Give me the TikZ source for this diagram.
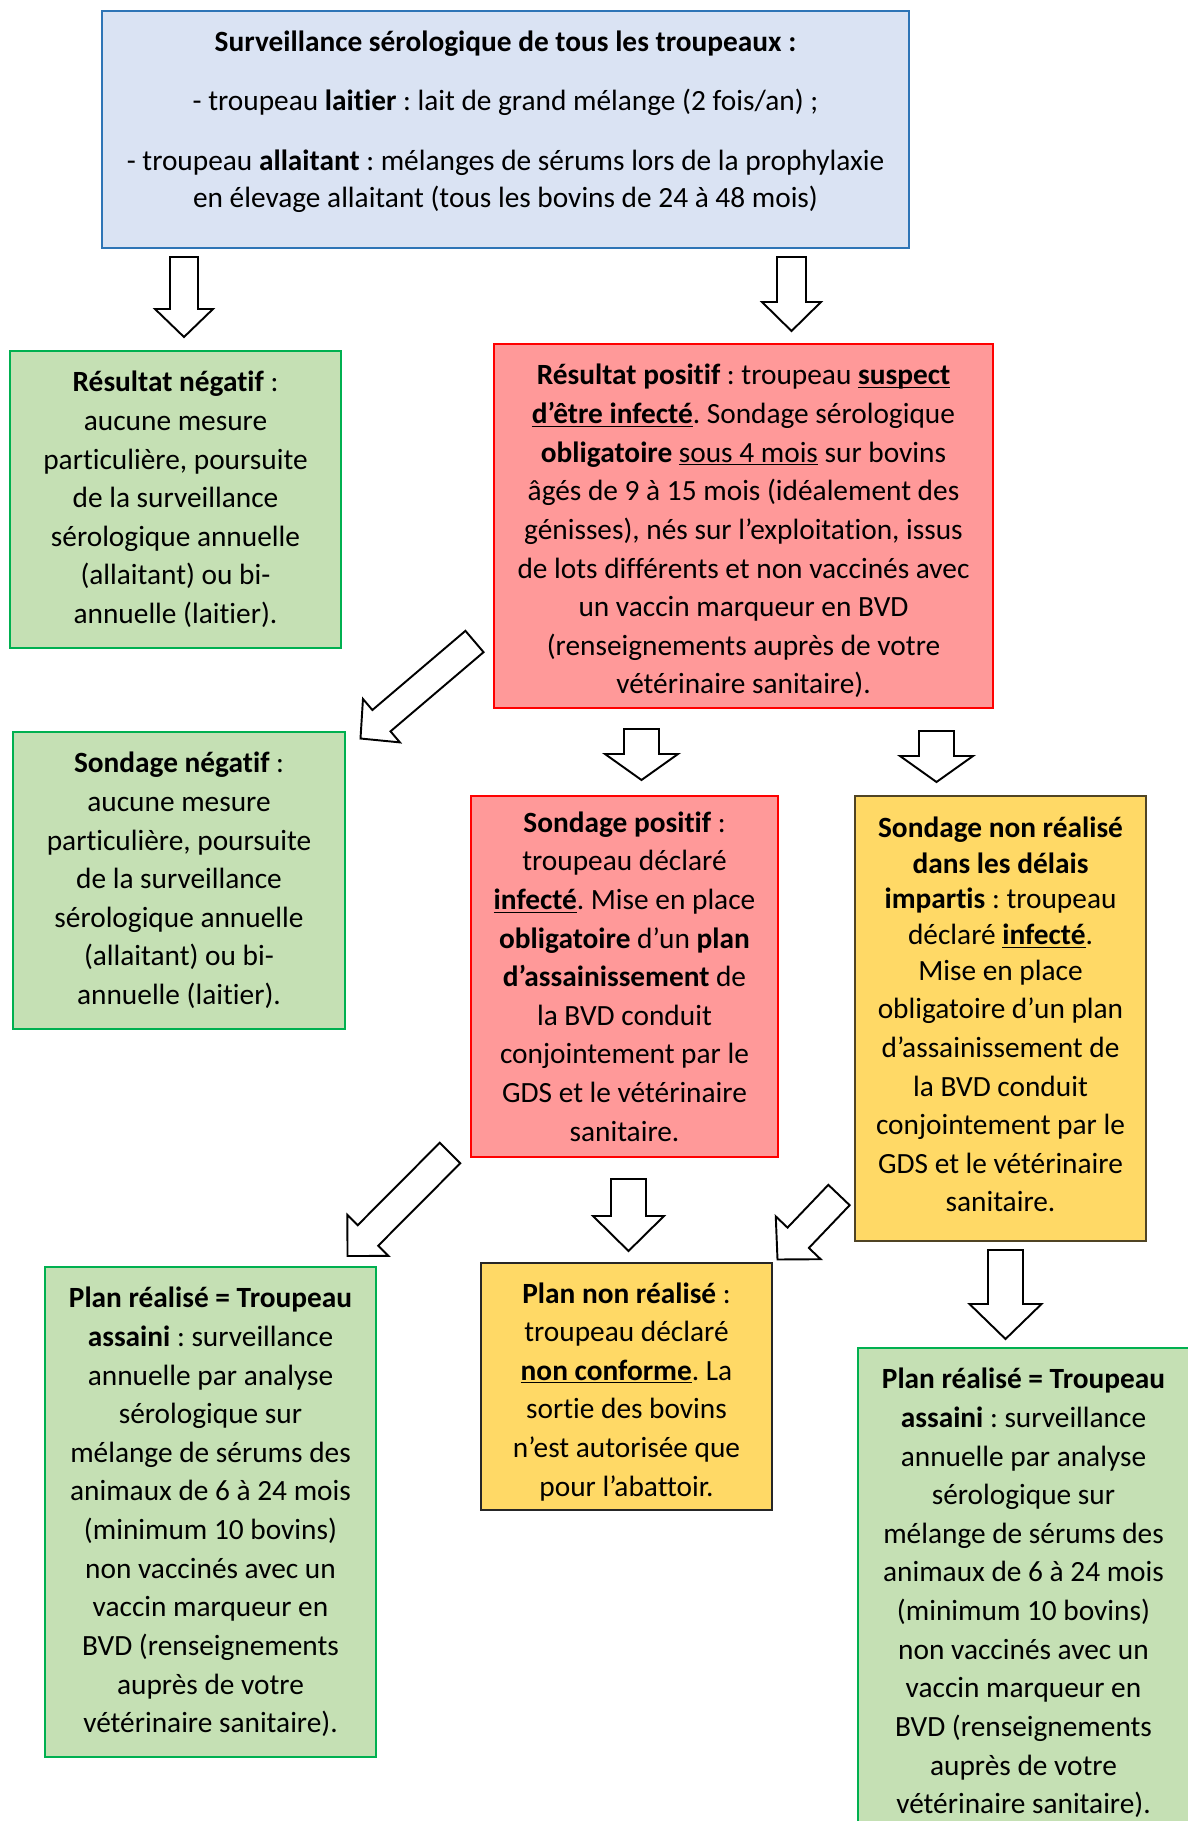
\documentclass[tikz,border=0pt]{standalone}
\usepackage{fontspec}
\setmainfont{Carlito}[Ligatures=NoCommon]
\usetikzlibrary{calc}
\frenchspacing

\definecolor{survfill}{HTML}{DAE3F3}
\definecolor{survline}{HTML}{2E75B6}
\definecolor{negfill}{HTML}{C5E0B4}
\definecolor{negline}{HTML}{00B050}
\definecolor{posfill}{HTML}{FF9999}
\definecolor{posline}{HTML}{FF0000}
\definecolor{planfill}{HTML}{FFD966}
\definecolor{planline}{HTML}{504424}

\newcommand{\souligne}[1]{\underline{\smash{#1}\vphantom{x}}}
\newcommand{\pushup}[1]{\\[#1]\mbox{}}
\newcommand{\pushdown}[1]{\mbox{}\\[#1]}
\newcommand{\blockarrow}[5]{%
  \coordinate (#1base) at ($(#2)!#5!(#1)$);
  \draw[hollowarrow] ($(#1)!#3!90:(#2)$) -- ($(#1base)!#3!90:(#2)$) -- ($(#1base)!#4!90:(#2)$) -- (#2)
    -- ($(#1base)!#4!-90:(#2)$) -- ($(#1base)!#3!-90:(#2)$) -- ($(#1)!#3!-90:(#2)$) -- cycle;
}

\tikzset{
  box/.style={draw, align=center, inner sep=0pt, line width=0.8pt, font=\fontsize{16.7pt}{21.97pt}\selectfont},
  survbox/.style={box, fill=survfill, draw=survline, line width=1.6pt},
  negbox/.style={box, fill=negfill, draw=negline},
  posbox/.style={box, fill=posfill, draw=posline},
  planbox/.style={box, fill=planfill, draw=planline},
  hollowarrow/.style={draw=black, fill=white, line width=1.1pt, line join=miter},
}

\begin{document}
\begin{tikzpicture}
	\useasboundingbox (0,0) rectangle (23.76,-36.42);

	\node[survbox, minimum width=16.14cm, minimum height=4.74cm] (surv) at (10.11,-2.59) {\textbf{Surveillance sérologique de tous les troupeaux :}\\[0.42cm]
		- troupeau \textbf{laitier} : lait de grand mélange (2 fois/an) ;\\[0.42cm]
		- troupeau \textbf{allaitant} : mélanges de sérums lors de la prophylaxie\\[-0.03cm]
		en élevage allaitant (tous les bovins de 24 à 48 mois)\pushup{-10pt}};

	\node[negbox, minimum width=6.62cm, minimum height=5.94cm] (resneg) at (3.51,-9.99) {\textbf{Résultat négatif} :\\ aucune mesure\\ particulière, poursuite\\ de la surveillance\\ sérologique annuelle\\ (allaitant) ou bi-\\ annuelle (laitier).};
	\node[posbox, minimum width=9.98cm, minimum height=7.28cm] (respos) at (14.87,-10.52) {\pushdown{-4.4pt}\textbf{Résultat positif} : troupeau \souligne{\textbf{suspect}}\\ \souligne{\textbf{d’être infecté}}. Sondage sérologique\\ \textbf{obligatoire} \souligne{sous 4 mois} sur bovins\\ âgés de 9 à 15 mois (idéalement des\\ génisses), nés sur l’exploitation, issus\\ de lots différents et non vaccinés avec\\ un vaccin marqueur en BVD\\ (renseignements auprès de votre\\ vétérinaire sanitaire).};

	\node[negbox, minimum width=6.64cm, minimum height=5.94cm] (sondneg) at (3.58,-17.61) {\textbf{Sondage négatif} :\\ aucune mesure\\ particulière, poursuite\\ de la surveillance\\ sérologique annuelle\\ (allaitant) ou bi-\\ annuelle (laitier).};
	\node[posbox, minimum width=6.14cm, minimum height=7.22cm] (sondpos) at (12.49,-19.53) {\textbf{Sondage positif} :\\ troupeau déclaré\\ \souligne{\textbf{infecté}}. Mise en place\\ \textbf{obligatoire} d’un \textbf{plan}\\ \textbf{d’assainissement} de\\ la BVD conduit\\ conjointement par le\\ GDS et le vétérinaire\\ sanitaire.};
	\node[planbox, minimum width=5.82cm, minimum height=8.90cm] (sondnon) at (20.01,-20.37) {\textbf{Sondage non réalisé}\\[-0.06cm] \textbf{dans les délais}\\[-0.06cm] \textbf{impartis} : troupeau\\[-0.06cm] déclaré \souligne{\textbf{infecté}}.\\[-0.06cm] Mise en place\\ obligatoire d’un plan\\ d’assainissement de\\ la BVD conduit\\ conjointement par le\\ GDS et le vétérinaire\\ sanitaire.\pushup{-17.4pt}};

	\node[negbox, minimum width=6.62cm, minimum height=9.80cm] (planok) at (4.21,-30.24) {\textbf{Plan réalisé = Troupeau}\\ \textbf{assaini} : surveillance\\ annuelle par analyse\\ sérologique sur\\ mélange de sérums des\\ animaux de 6 à 24 mois\\ (minimum 10 bovins)\\ non vaccinés avec un\\ vaccin marqueur en\\ BVD (renseignements\\ auprès de votre\\ vétérinaire sanitaire).};
	\node[planbox, draw=black!85, minimum width=5.82cm, minimum height=4.94cm] (plannon) at (12.53,-27.73) {\pushdown{-4.4pt}\textbf{Plan non réalisé} :\\ troupeau déclaré\\ \souligne{\textbf{non conforme}}. La\\ sortie des bovins\\ n’est autorisée que\\ pour l’abattoir.};
	\node[negbox, minimum width=6.62cm, minimum height=9.80cm] (planok2) at (20.47,-31.86) {\textbf{Plan réalisé = Troupeau}\\ \textbf{assaini} : surveillance\\ annuelle par analyse\\ sérologique sur\\ mélange de sérums des\\ animaux de 6 à 24 mois\\ (minimum 10 bovins)\\ non vaccinés avec un\\ vaccin marqueur en\\ BVD (renseignements\\ auprès de votre\\ vétérinaire sanitaire).};

	\coordinate (a1s) at (3.68,-5.14);   \coordinate (a1e) at (3.68,-6.74);
	\coordinate (a2s) at (15.83,-5.14);  \coordinate (a2e) at (15.83,-6.62);
	\coordinate (a3s) at (9.49,-12.83);  \coordinate (a3e) at (7.21,-14.77);
	\coordinate (a4s) at (12.83,-14.58); \coordinate (a4e) at (12.83,-15.60);
	\coordinate (a5s) at (18.73,-14.62); \coordinate (a5e) at (18.73,-15.64);
	\coordinate (a6s) at (9.00,-23.06);  \coordinate (a6e) at (6.95,-25.12);
	\coordinate (a7s) at (12.57,-23.58); \coordinate (a7e) at (12.57,-25.02);
	\coordinate (a8s) at (16.78,-23.90); \coordinate (a8e) at (15.55,-25.19);
	\coordinate (a9s) at (20.11,-25.00); \coordinate (a9e) at (20.11,-26.78);

	\blockarrow{a1s}{a1e}{0.28cm}{0.58cm}{0.56cm}
	\blockarrow{a2s}{a2e}{0.29cm}{0.59cm}{0.58cm}
	\blockarrow{a3s}{a3e}{0.28cm}{0.57cm}{0.55cm}
	\blockarrow{a4s}{a4e}{0.35cm}{0.73cm}{0.52cm}
	\blockarrow{a5s}{a5e}{0.35cm}{0.73cm}{0.52cm}
	\blockarrow{a6s}{a6e}{0.29cm}{0.58cm}{0.58cm}
	\blockarrow{a7s}{a7e}{0.35cm}{0.71cm}{0.70cm}
	\blockarrow{a8s}{a8e}{0.295cm}{0.62cm}{0.60cm}
	\blockarrow{a9s}{a9e}{0.35cm}{0.72cm}{0.70cm}
\end{tikzpicture}
\end{document}
